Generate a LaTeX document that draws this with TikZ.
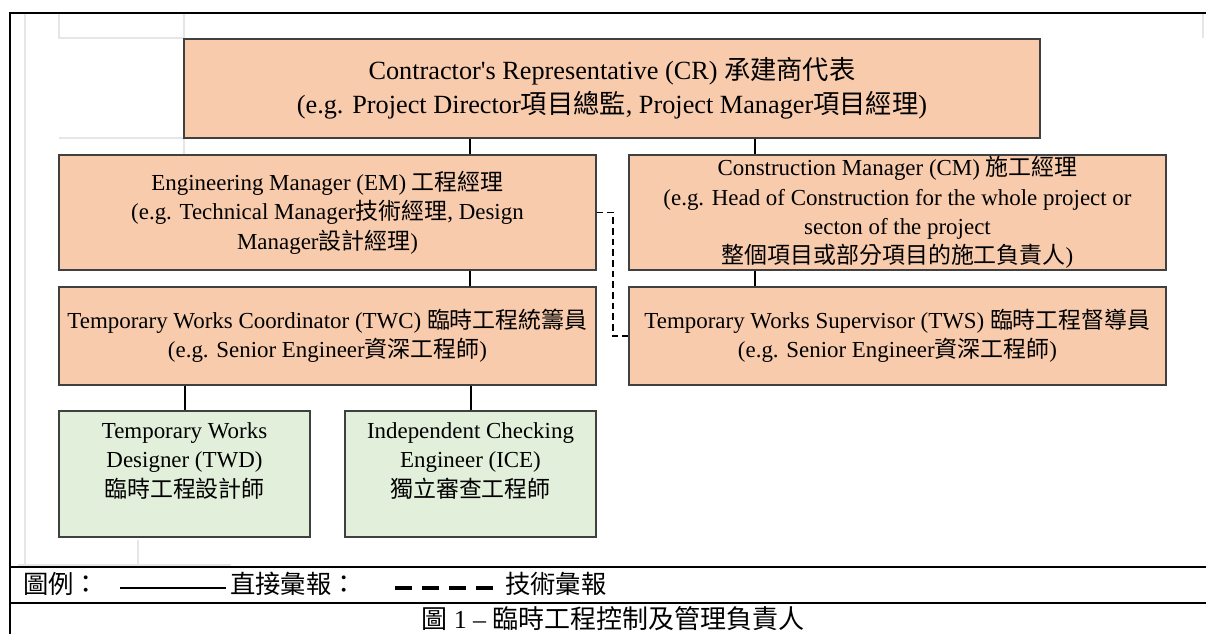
\documentclass[tikz,border=0pt]{standalone}
\usepackage{fontspec}
\setmainfont{Liberation Serif}[Ligatures=TeXOff]
\newfontfamily\cjk{Noto Sans CJK TC}
\newcommand{\zh}[1]{{\cjk #1}}
\definecolor{peach}{HTML}{F8CBAD}
\definecolor{leaf}{HTML}{E2EFDA}
\definecolor{edge}{HTML}{404040}
\definecolor{faint}{HTML}{E6E6E6}
\tikzset{
  box/.style={draw=edge, line width=0.8pt, fill=peach, inner sep=0pt, align=center,
              font=\fontsize{17.2}{22}\selectfont},
  greenbox/.style={box, fill=leaf},
  link/.style={line width=1.5pt, black},
  techlink/.style={line width=1.1pt, black, dash pattern=on 5pt off 3pt},
  rule/.style={line width=1.5pt, black},
  gridline/.style={line width=0.8pt, faint},
}
\begin{document}
\begin{tikzpicture}[x=0.75pt, y=-0.75pt]
\useasboundingbox (0,0) rectangle (1206,634);
% faint background grid
\draw[gridline] (25,14) -- (25,565);
\draw[gridline] (59,14) -- (59,38) -- (184,38);
\draw[gridline] (184,14) -- (184,155);
\draw[gridline] (59,138) -- (184,138);
\draw[gridline] (138,540) -- (138,565);
\draw[gridline] (18,565) -- (231,565);
\draw[gridline] (1203,14) -- (1203,38);
% frame
\draw[rule] (10,634) -- (10,13) -- (1206,13);
\draw[line width=1.2pt] (10,567) -- (1206,567);
\draw[line width=2pt] (10,603) -- (1206,603);
% boxes
\node[box, minimum width=642pt, minimum height=74.25pt, font=\fontsize{19.7}{25.5}\selectfont] (cr) at (612,88.5)
  {Contractor's Representative (CR) \zh{承建商代表}\\(e.g. Project Director\zh{項目總監}, Project Manager\zh{項目經理})};
\node[box, minimum width=402.75pt, minimum height=86.25pt] (em) at (327.5,212.5)
  {Engineering Manager (EM) \zh{工程經理}\\(e.g. Technical Manager\zh{技術經理}, Design\\Manager\zh{設計經理})};
\node[box, minimum width=402.75pt, minimum height=86.25pt] (cm) at (897.5,212.5)
  {Construction Manager (CM) \zh{施工經理}\\(e.g. Head of Construction for the whole project or\\secton of the project\\\zh{整個項目或部分項目的施工負責人})};
\node[box, minimum width=402.75pt, minimum height=73.5pt] (twc) at (327.5,336)
  {Temporary Works Coordinator (TWC) \zh{臨時工程統籌員}\\(e.g. Senior Engineer\zh{資深工程師})};
\node[box, minimum width=402.75pt, minimum height=73.5pt] (tws) at (897.5,336)
  {Temporary Works Supervisor (TWS) \zh{臨時工程督導員}\\(e.g. Senior Engineer\zh{資深工程師})};
\node[greenbox, minimum width=188.25pt, minimum height=94.5pt] (twd) at (184.5,474) {};
\node[greenbox, minimum width=188.25pt, minimum height=94.5pt] (ice) at (470.5,474) {};
\node[anchor=north, align=center, font=\fontsize{17.2}{22}\selectfont, inner sep=0pt] (twdtext) at ([yshift=-9pt]twd.north)
  {Temporary Works\\Designer (TWD)\\\zh{臨時工程設計師}};
\node[anchor=north, align=center, font=\fontsize{17.2}{22}\selectfont, inner sep=0pt] (icetext) at ([yshift=-9pt]ice.north)
  {Independent Checking\\Engineer (ICE)\\\zh{獨立審查工程師}};
% connectors
\coordinate (colA) at (470,0);
\coordinate (colB) at (755,0);
\coordinate (dashx) at (613,0);
\draw[link] (cr.south -| colA) -- (em.north -| colA);
\draw[link] (cr.south -| colB) -- (cm.north -| colB);
\draw[link] (em.south -| colA) -- (twc.north -| colA);
\draw[link] (cm.south -| colB) -- (tws.north -| colB);
\draw[link] (twc.south -| twd.north) -- (twd.north);
\draw[link] (twc.south -| ice.north) -- (ice.north);
\draw[techlink] (em.east) -- (em.east -| dashx) -- (tws.west -| dashx) -- (tws.west);
% legend
\node[anchor=west, inner sep=0pt, font=\fontsize{19}{22}\selectfont] (lg) at (23,584) {\zh{圖例：}};
\coordinate (s1) at (120,588);
\coordinate (s2) at (226,588);
\draw[line width=1.6pt] (s1) -- (s2);
\node[anchor=west, inner sep=0pt, font=\fontsize{19}{22}\selectfont] (direct) at (230,584) {\zh{直接彙報：}};
\coordinate (d1) at (395,588);
\coordinate (d2) at (494,588);
\draw[line width=3pt, dash pattern=on 12.75pt off 7.5pt] (d1) -- (d2);
\node[anchor=west, inner sep=0pt, font=\fontsize{19}{22}\selectfont] (tech) at (505,584) {\zh{技術彙報}};
% caption
\node[inner sep=0pt, font=\fontsize{19.5}{22}\selectfont] (cap) at (613,618.5) {\zh{圖} 1 – \zh{臨時工程控制及管理負責人}};
\end{tikzpicture}
\end{document}
